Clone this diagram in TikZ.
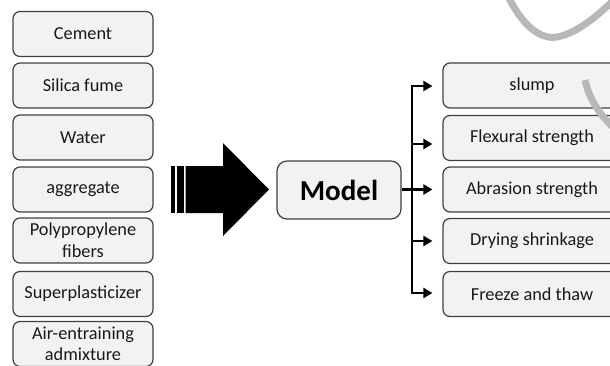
\documentclass[tikz,border=0pt]{standalone}
\usepackage{fontspec}
\setmainfont{Carlito}
\usetikzlibrary{arrows.meta}
\definecolor{boxfill}{HTML}{F2F2F2}
\definecolor{boxline}{HTML}{404040}
\definecolor{wmark}{HTML}{B8B8B8}
\tikzset{
  inbox/.style={draw=boxline, line width=1.2pt, fill=boxfill, rounded corners=7pt,
    minimum width=140pt, minimum height=45pt, inner sep=1pt, align=center,
    font=\fontsize{18.3}{22}\selectfont, text=black!90},
  outbox/.style={inbox, minimum width=178pt},
  modelbox/.style={draw=boxline, line width=1.2pt, fill=boxfill, rounded corners=10pt,
    minimum width=124pt, minimum height=58pt, font=\fontsize{29}{33}\selectfont\bfseries, text=black},
  conn/.style={line width=2.4pt, black},
  tip/.style={-{Triangle[length=9pt,width=10pt]}},
  wm/.style={draw=wmark, line width=7pt}
}
\begin{document}
\begin{tikzpicture}[x=1pt,y=-1pt]
\useasboundingbox (0,0) rectangle (610,365);
\clip (0,0) rectangle (610,365);
% inputs
\node[inbox] (cem) at (83,34) {Cement};
\node[inbox] (sil) at (83,85.5) {Silica fume};
\node[inbox] (wat) at (83,137.5) {Water};
\node[inbox] (agg) at (83,189.5) {aggregate};
\node[inbox] (pol) at (83,240.5) {Polypropylene\\fibers};
\node[inbox] (sup) at (83,294) {Superplasticizer};
\node[inbox, font=\fontsize{18.3}{20.5}\selectfont] (air) at (83,344) {Air-entraining\\admixture};
% big arrow
\fill[black] (171,166) rectangle (175,213);
\fill[black] (176.5,166) rectangle (184,213);
\fill[black] (185.5,166) -- (223,166) -- (223,143) -- (269,189.5) -- (223,236) -- (223,213) -- (185.5,213) -- cycle;
% model
\node[modelbox] (model) at (339,190) {Model};
% outputs
\node[outbox] (slu) at (532,85.5) {slump};
\node[outbox] (fle) at (532,138) {Flexural strength};
\node[outbox] (abr) at (532,189.5) {Abrasion strength};
\node[outbox] (dry) at (532,241) {Drying shrinkage};
\node[outbox] (fre) at (532,294) {Freeze and thaw};
% connectors
\coordinate (b1) at (412,86);
\coordinate (b2) at (412,144);
\coordinate (b3) at (412,189.5);
\coordinate (b4) at (412,241);
\coordinate (b5) at (412,293);
\coordinate (t1) at ([xshift=-10pt]slu.west |- b1);
\coordinate (t2) at ([xshift=-10pt]fle.west |- b2);
\coordinate (t3) at ([xshift=-10pt]abr.west |- b3);
\coordinate (t4) at ([xshift=-10pt]dry.west |- b4);
\coordinate (t5) at ([xshift=-10pt]fre.west |- b5);
\draw[conn] (model.east |- b3) -- (b3);
\draw[conn, {Triangle[length=9pt,width=10pt]}-{Triangle[length=9pt,width=10pt]}] (t1) -- (b1) -- (b5) -- (t5);
\draw[conn, tip] (b2) -- (t2);
\draw[conn, tip] (b3) -- (t3);
\draw[conn, tip] (b4) -- (t4);
% watermark
\draw[wm] (508,-4) .. controls (522,25) and (540,40) .. (557,37) .. controls (578,33) and (598,15) .. (614,0);
\draw[wm] (585,80) .. controls (589,98) and (598,113) .. (614,128);
\end{tikzpicture}
\end{document}
